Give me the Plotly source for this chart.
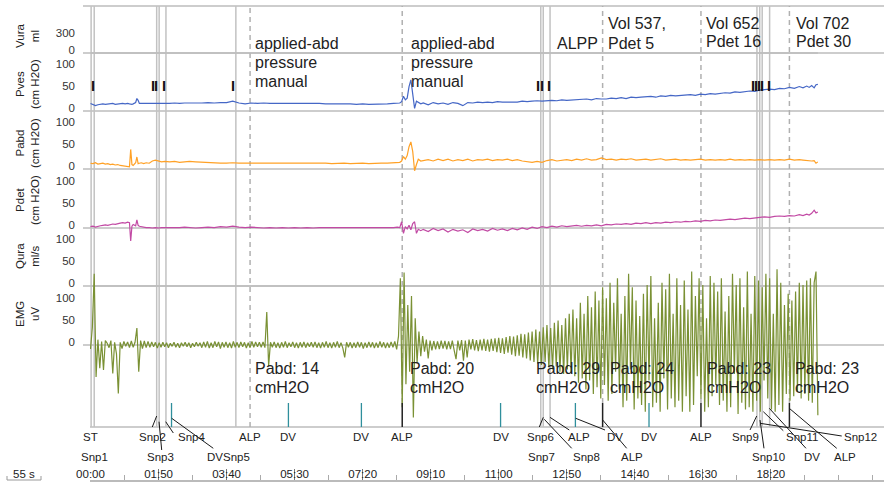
import plotly.graph_objects as go

FONT = "Liberation Sans, Arial, Helvetica, sans-serif"
TXT = "#222222"

# ---------------- data ----------------
# pressure channels, sampled at these times (s)
t_pres = [0, 4, 8, 12, 16, 20, 24, 28, 32, 36, 40, 44, 48, 52, 56, 60, 63, 65, 67, 69,
          71, 73, 75, 77, 79, 82, 86, 90, 95, 100, 105, 110, 115, 120,
          128, 136, 144, 152, 160, 170, 180, 190, 200, 210, 220, 230, 240, 250, 260, 270,
          280, 290, 300, 310, 320, 330, 340, 350, 360, 370, 380, 390, 400, 410, 420, 430,
          440, 450, 460, 470, 480, 490, 496,
          500, 503, 506, 509, 512, 515, 518, 521, 524, 527, 530, 534,
          538, 546, 554, 562, 570, 578, 586, 594, 602, 610,
          618, 626, 634, 642, 650, 658, 666, 674, 682, 690,
          698, 706, 714, 722, 730, 738, 746, 754, 762, 770,
          778, 786, 794, 802, 810, 818, 826, 834, 842, 850,
          858, 866, 874, 882, 890, 898, 906, 914, 922, 930,
          938, 946, 954, 962, 970, 978, 986, 994, 1002, 1010,
          1018, 1026, 1034, 1042, 1050, 1058, 1066, 1074, 1082, 1090,
          1098, 1106, 1114, 1122, 1130, 1138, 1146,
          1152, 1158, 1162, 1166, 1170, 1173, 1176]

pves = [17, 15, 12, 14, 15, 16, 15, 16, 16, 17, 15, 16, 17, 17, 16, 17, 16, 15, 15, 16,
        17, 19, 28, 24, 17, 17, 16, 17, 16, 17, 17, 17, 17, 17,
        17, 18, 17, 18, 18, 17, 18, 19, 18, 19, 19, 22, 18, 16, 18, 17, 18, 17, 17, 18,
        17, 17, 17, 18, 17, 17, 16, 16, 17, 16, 16, 15, 16, 15, 15, 16, 16, 17, 17,
        18, 21, 33, 25, 29, 55, 70, 38, 6, 22, 19, 16,
        18, 14, 19, 16, 18, 15, 19, 17, 12, 19,
        18, 20, 19, 20, 19, 21, 20, 20, 21, 20,
        22, 21, 22, 23, 22, 23, 24, 23, 25, 24,
        25, 26, 26, 27, 25, 28, 27, 27, 29, 28,
        30, 28, 31, 30, 31, 32, 33, 31, 34, 33,
        35, 34, 35, 36, 37, 35, 38, 37, 39, 38,
        40, 41, 40, 43, 42, 44, 45, 44, 47, 48,
        49, 48, 51, 50, 53, 51, 55,
        52, 56, 53, 57, 52, 59, 60]

pabd = [13, 12, 14, 11, 12, 13, 11, 12, 10, 11, 9, 10, 8, 7, 6, 6, 5, 44, 10, 8,
        12, 14, 27, 12, 13, 14, 12, 14, 13, 18, 20, 18, 16, 17,
        16, 17, 15, 16, 17, 16, 15, 14, 13, 13, 13, 14, 13, 13, 14, 13, 14, 13, 13, 13,
        14, 13, 13, 13, 14, 13, 13, 12, 13, 13, 12, 13, 13, 12, 13, 13, 13, 14, 14,
        15, 18, 28, 22, 30, 50, 61, 39, -4, 10, 22, 18,
        19, 21, 18, 22, 19, 22, 18, 21, 19, 22,
        18, 21, 20, 22, 19, 21, 20, 22, 19, 21,
        18, 16, 15, 17, 15, 19, 21, 18, 20, 21,
        19, 22, 20, 23, 20, 21, 25, 21, 22, 20,
        22, 21, 23, 20, 21, 22, 20, 21, 23, 20,
        21, 22, 20, 21, 20, 21, 22, 20, 21, 20,
        21, 20, 22, 20, 21, 20, 21, 20, 21, 20,
        21, 20, 21, 20, 22, 20, 21,
        20, 19, 20, 18, 19, 13, 16]

pdet = [3, 4, 2, 4, 5, 6, 7, 6, 8, 9, 8, 10, 11, 12, 11, 13, 12, -29, 4, 8,
        6, 5, 18, 6, 4, 3, 2, 1, 1, 0, 1, 0, 1, 1,
        1, 0, 1, 2, 1, 0, 1, 2, 1, 3, 2, 4, 2, 1, 2, 1, 0, 1, 0, 1,
        0, 1, 0, 1, 0, 1, 1, 0, 1, 1, 1, 0, 1, 1, 0, 1, 1, 1, 2,
        1, 14, -12, 3, -2, 6, -4, 10, 14, -12, -3, -6,
        -3, -8, -1, -6, -2, -9, -3, -7, -4, -10,
        -2, -6, -3, -7, -1, -5, -2, -6, -1, -4,
        0, -3, 2, -1, 3, 1, 4, 2, 5, 3,
        4, 6, 4, 6, 5, 7, 5, 8, 7, 9,
        8, 10, 8, 11, 10, 12, 10, 12, 11, 13,
        12, 14, 13, 15, 14, 16, 15, 17, 16, 18,
        17, 19, 20, 19, 21, 22, 21, 23, 24, 25,
        24, 26, 27, 26, 28, 27, 30,
        28, 31, 29, 33, 40, 34, 36]

# flow and voided volume stay at zero during this filling phase
t_flat = [0, 1176]
vura_ml = [0, 0]
qura_mls = [0, 0]

# EMG (uV), one value every EMG_DT seconds starting at t = 0
EMG_DT = 3
emg_uv = [
    -9, 40, 160, -72, 12, -52, 8, -56, 10, 4, -6, 10, -64, 6, -20, -109, 6, -8, 8, -3,
    7, -6, 9, -5, 6, 38, -60, 10, -8, 9, -6, 8, -5, 7, -4, 6, -7, 5, -5, 6,
    -4, 5, -6, 4, -3, 6, -5, 4, -6, 5, -3, 6, -4, 5, -6, 4, -4, 6, -3, 5,
    -6, 7, -5, 8, -7, 5, -6, 8, -4, 7, -8, 6, -5, 7, -6, 5, -7, 8, -5, 6,
    -6, 7, -4, 6, -7, 5, -6, 8, -5, 7, -4, 6, -5, 7, -6, 74, -47, 6, -5, 7,
    -6, 5, -7, 6, -5, 8, -6, 5, -4, 7, -6, 5, -7, 6, -5, 7, -6, 5, -4, 6,
    -5, 7, -6, 5, -7, 6, -5, 8, -6, 5, -7, 6, -5, 8, -6, 5, -7, -28, 6, -5,
    6, -7, 5, -6, 7, -5, 6, -8, 5, -6, 7, -5, 6, -7, 5, -6, 8, -5, 6, -7,
    5, -6, 7, -5, 8, -10, 20, 150, -140, 163, -88, 90, -60, 110, -163, 60, -40, 30, -25, 20,
    -15, 12, -30, 10, -12, 9, -10, 8, -9, 10, -8, 9, -10, 8, -9, 10, -12, -32, 10, -12,
    11, -35, 10, -28, 12, -10, 13, -12, 11, -14, 12, -12, 14, -13, 12, -15, 14, -13, 15, -16,
    16, -18, 15, -20, 18, -17, 20, -22, 19, -25, 22, -24, 25, -28, 24, -30, 28, -35, 30, -38,
    35, -42, 30, -45, 40, -38, 45, -50, 38, -55, 50, -48, 55, -60, 45, -65, 60, -55, 70, -62,
    80, -70, 60, -85, 95, -75, 70, -100, 110, -80, 85, -110, 120, -95, 100, -120, 130, -90, 105, -125,
    140, -110, 95, -60, 150, -100, 70, -140, 110, -125, 160, -55, 130, -145, 100, -120, 65, -135, 115, -150,
    135, -80, 155, -140, 60, -130, 95, -150, 140, -75, 125, -145, 160, -120, 70, -140, 150, -125, 90, -150,
    145, -115, 80, -150, 165, -135, 110, -70, 150, -120, 135, -150, 60, -140, 155, -115, 140, -90, 120, -135,
    150, -125, 75, -150, 110, -140, 160, -65, 135, -155, 150, -130, 85, -145, 165, -140, 70, -150, 155, -125,
    145, -150, 130, -80, 160, -120, 150, -145, 70, -150, 170, -135, 140, -150, 90, -110, 115, -125, 100, -115,
    120, -105, 140, -120, 135, -110, 145, -125, 150, -130, 140, 165, -158]
emg_t = [i * EMG_DT for i in range(len(emg_uv))]

assert len(t_pres) == len(pves) == len(pabd) == len(pdet), (len(t_pres), len(pves), len(pabd), len(pdet))

# events (s)
st_t = 1
snp_t = [6, 107, 111, 122, 235, 728, 732, 743, 1077.5, 1082, 1086, 1098]
alp_t = [258, 504, 828, 987, 1130]
dv_t = [131, 320, 438, 663, 784, 903]
mark_t = [4, 101.5, 105.4, 118.8, 229.9, 724, 730.5, 741.8, 1071.6, 1076, 1080.9, 1085.2, 1096.5]

# event labels under the traces: (text, time, row)
event_labels = [("ST", 0, 1), ("Snp1", 6, 2), ("Snp2", 100.6, 1), ("Snp3", 113.5, 2),
                ("Snp4", 163.6, 1), ("DVSnp5", 222.8, 2), ("ALP", 258, 1), ("DV", 320, 1),
                ("DV", 437.3, 1), ("ALP", 503.2, 1), ("DV", 663.2, 1), ("Snp6", 726.8, 1),
                ("Snp7", 728.4, 2), ("ALP", 790.3, 1), ("Snp8", 802.3, 2), ("DV", 848, 1),
                ("ALP", 875, 2), ("DV", 903.5, 1), ("ALP", 986.6, 1), ("Snp9", 1059.3, 1),
                ("Snp10", 1095.9, 2), ("Snp11", 1149.9, 1), ("DV", 1166, 2), ("ALP", 1219.9, 2),
                ("Snp12", 1245.3, 1)]
# leader lines: (event time, start row px, label time, end row px)
leaders = [(107, 416, 99.9, 427), (110.8, 421.7, 115.1, 450), (121.6, 421.7, 133.9, 433),
           (131.3, 418.3, 198.5, 448.3), (732.1, 417.3, 725.6, 427), (733.7, 419.3, 778, 448.3),
           (742.9, 417.3, 774.1, 430), (784.5, 418.3, 831.9, 430), (828.1, 420, 866.9, 448.3),
           (1077.1, 416, 1066.3, 430), (1082.5, 420, 1088.9, 448.3), (1082.5, 423.3, 1214.6, 436),
           (1087.8, 411.7, 1120.1, 430.7), (1097.5, 408.3, 1156.8, 448.3), (1129.8, 408.3, 1206.5, 448.3)]

top_notes = [(["applied-abd", "pressure", "manual"], 263.2, 43.5),
             (["applied-abd", "pressure", "manual"], 515.4, 43.5),
             (["ALPP"], 751, 43.5),
             (["Vol 537,", "Pdet 5"], 833.5, 24),
             (["Vol 652", "Pdet 16"], 992, 23),
             (["Vol 702", "Pdet 30"], 1138.2, 23)]
pabd_notes = [("Pabd: 14", 262.7), ("Pabd: 20", 513.8), ("Pabd: 29", 717.5),
              ("Pabd: 24", 837.2), ("Pabd: 23", 994), ("Pabd: 23", 1136.3)]

tick_vals = [0, 110, 220, 330, 440, 550, 660, 770, 880, 990, 1100]
tick_text = ["00:00", "01:50", "03:40", "05:30", "07:20", "09:10", "11:00",
             "12:50", "14:40", "16:30", "18:20"]

# ---------------- layout geometry ----------------
W, H = 884, 484
PL, PT, PW, PH = 90, 6, 794, 474
PXS = 0.6185          # px per second
T_LEFT = (PL - 90.5) / PXS
T_RIGHT = (PL + PW - 90.5) / PXS


def ypap(p):
    return (PT + PH - p) / PH


def xpap(p):
    return (p - PL) / PW


def yrange(p0, s):
    return [-(PT + PH - p0) / s, (p0 - PT) / s]


channels = [  # axis, zero row px, px per unit, ticks, name, label center px
    ("y", 53, 17 / 300, [0, 300], "Vura<br>ml", 36),
    ("y2", 111, 0.445, [0, 50, 100], "Pves<br>(cm H2O)", 84),
    ("y3", 169, 0.445, [0, 50, 100], "Pabd<br>(cm H2O)", 143),
    ("y4", 228, 0.445, [0, 50, 100], "Pdet<br>(cm H2O)", 200),
    ("y5", 286, 0.445, [0, 50, 100], "Qura<br>ml/s", 256),
    ("y6", 345, 0.445, [0, 50, 100], "EMG<br>uV", 314),
]

fig = go.Figure()
fig.add_trace(go.Scatter(x=t_flat, y=vura_ml, yaxis="y", mode="lines",
                         line=dict(color="#bdbdbd", width=1.5), hoverinfo="skip"))
fig.add_trace(go.Scatter(x=t_pres, y=pves, yaxis="y2", mode="lines",
                         line=dict(color="#4567c6", width=1.2)))
fig.add_trace(go.Scatter(x=t_pres, y=pabd, yaxis="y3", mode="lines",
                         line=dict(color="#ffa126", width=1.2)))
fig.add_trace(go.Scatter(x=t_pres, y=pdet, yaxis="y4", mode="lines",
                         line=dict(color="#c24aa4", width=1.2)))
fig.add_trace(go.Scatter(x=t_flat, y=qura_mls, yaxis="y5", mode="lines",
                         line=dict(color="#bdbdbd", width=1.5), hoverinfo="skip"))
fig.add_trace(go.Scatter(x=emg_t, y=emg_uv, yaxis="y6", mode="lines",
                         line=dict(color="#7a9134", width=1.2)))

shapes = []
GRID = "#bdbdbd"
# band separators (zero line of each channel)
for ax, p0, s, tv, name, lc in channels:
    shapes.append(dict(type="line", xref="paper", yref=ax, x0=xpap(83), x1=1, y0=0, y1=0,
                       line=dict(color=GRID, width=1.5), layer="below"))
shapes.append(dict(type="line", xref="paper", yref="paper", x0=xpap(83), x1=1, y0=1, y1=1,
                   line=dict(color=GRID, width=1.5), layer="below"))
shapes.append(dict(type="line", xref="paper", yref="paper", x0=0, x1=1, y0=ypap(427), y1=ypap(427),
                   line=dict(color=GRID, width=1.5), layer="below"))
# snapshot / start lines
for t in [st_t] + snp_t:
    shapes.append(dict(type="line", xref="x", yref="paper", x0=t, x1=t, y0=ypap(427), y1=1,
                       line=dict(color="#c2c2c2", width=1.5), layer="below"))
# ALP dashed lines and markers
for i, t in enumerate(alp_t):
    bottom = 427 if i == 0 else 403
    shapes.append(dict(type="line", xref="x", yref="paper", x0=t, x1=t, y0=ypap(bottom), y1=1,
                       line=dict(color="#b0b0b0", width=1.5, dash="5px,4px"), layer="below"))
    if i > 0:
        shapes.append(dict(type="line", xref="x", yref="paper", x0=t, x1=t, y0=ypap(427), y1=ypap(403),
                           line=dict(color="#222", width=1.5)))
for t in dv_t:
    shapes.append(dict(type="line", xref="x", yref="paper", x0=t, x1=t, y0=ypap(427), y1=ypap(403),
                       line=dict(color="#2f8f9c", width=1.3)))
for t0, p0, t1, p1 in leaders:
    shapes.append(dict(type="line", xref="x", yref="paper", x0=t0, x1=t1, y0=ypap(p0), y1=ypap(p1),
                       line=dict(color="#1a1a1a", width=1)))
# 55 s scale bar
shapes.append(dict(type="line", xref="paper", yref="paper", x0=xpap(7), x1=xpap(41), y0=0, y1=0,
                   line=dict(color="#999", width=1)))
for xp in (7, 41):
    shapes.append(dict(type="line", xref="paper", yref="paper", x0=xpap(xp), x1=xpap(xp),
                       y0=0, y1=ypap(476), line=dict(color="#999", width=1)))

ann = []


def text(x, y, s, size, xref="x", xanchor="left", color=TXT, **kw):
    ann.append(dict(x=x, y=y, xref=xref, yref="paper", text=s, showarrow=False,
                    xanchor=xanchor, yanchor="middle",
                    font=dict(family=FONT, size=size, color=color), **kw))


for lines, t, y0 in top_notes:
    for k, s in enumerate(lines):
        text(t, ypap(y0 + 19 * k), s, 16)
for s, t in pabd_notes:
    text(t, ypap(368.3), s, 16)
    text(t, ypap(387.7), "cmH2O", 16)
for s, t, row in event_labels:
    text(t, ypap(437 if row == 1 else 457), s, 11.5, xanchor="center")
for t in mark_t:
    text(t, ypap(86), "<b>I</b>", 14.5, xanchor="center", color="#111111")
for ax, p0, s, tv, name, lc in channels:
    ann.append(dict(x=xpap(27), y=ypap(lc), xref="paper", yref="paper", text=name,
                    showarrow=False, textangle=-90, xanchor="center", yanchor="middle",
                    font=dict(family=FONT, size=11.5, color=TXT)))
text(xpap(24), ypap(474), "55 s", 11.5, xref="paper", xanchor="center")

layout = dict(
    width=W, height=H, margin=dict(l=PL, r=W - PL - PW, t=PT, b=H - PT - PH),
    paper_bgcolor="white", plot_bgcolor="white", showlegend=False,
    font=dict(family=FONT, color=TXT),
    xaxis=dict(range=[T_LEFT, T_RIGHT], showgrid=False, zeroline=False, showline=True,
               linecolor="#bbbbbb", linewidth=1.5, ticks="inside", ticklen=11, tickcolor="#777",
               tickwidth=1, tickvals=tick_vals, ticktext=tick_text, ticklabelposition="inside",
               ticklabelstandoff=-12,
               ticklabeloverflow="allow", tickfont=dict(family=FONT, size=11.5, color=TXT),
               minor=dict(dtick=55, tick0=0, ticks="inside", ticklen=5, tickcolor="#aaa"),
               anchor="y", fixedrange=True),
    shapes=shapes, annotations=ann,
)
for i, (ax, p0, s, tv, name, lc) in enumerate(channels):
    key = "yaxis" if ax == "y" else "yaxis" + ax[1:]
    d = dict(range=yrange(p0, s), showgrid=False, zeroline=False, showline=False, ticks="",
             tickvals=tv, tickfont=dict(family=FONT, size=11.5, color="#333"),
             ticklabelstandoff=14, ticklabelshift=-3, fixedrange=True)
    if ax != "y":
        d["overlaying"] = "y"
    layout[key] = d
fig.update_layout(**layout)
fig.write_html("out.html")
